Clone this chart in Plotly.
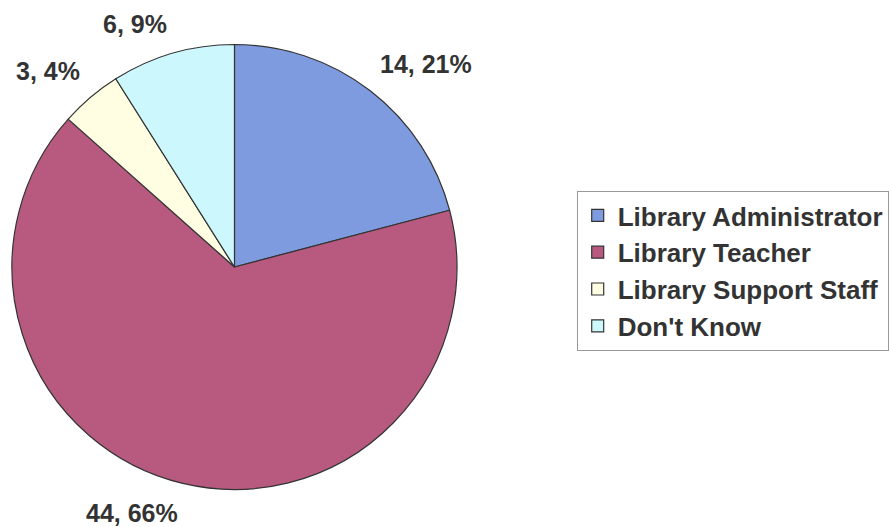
import math
import plotly.graph_objects as go

categories = ["Library Administrator", "Library Teacher", "Library Support Staff", "Don't Know"]
counts = [14, 44, 3, 6]
colors = ["#7f9be0", "#b85a80", "#fffde2", "#ccf8fd"]

W, H = 889, 527
cx, cy, R = 235, 267, 223  # pie centre / radius in pixels

fig = go.Figure(go.Pie(
    labels=[f"<b>{c}</b>" for c in categories],
    values=counts,
    sort=False,
    direction="clockwise",
    rotation=0,
    marker=dict(colors=colors, line=dict(color="#333333", width=1.2)),
    textinfo="none",
    hoverinfo="label+value+percent",
    domain=dict(x=[(cx - R) / W, (cx + R) / W], y=[1 - (cy + R) / H, 1 - (cy - R) / H]),
))

# data labels: "value, percent" placed just outside each slice's mid angle
total = sum(counts)
cum = 0
for v in counts:
    mid = (cum + v / 2) / total * 2 * math.pi
    cum += v
    s, c = math.sin(mid), math.cos(mid)
    px = cx + R * 1.06 * s
    py = cy - R * 1.06 * c
    pct = round(v / total * 100)
    fig.add_annotation(
        x=px / W, y=1 - py / H, xref="paper", yref="paper",
        text=f"<b>{v}, {pct}%</b>", showarrow=False,
        xanchor="left" if s > 0.05 else ("right" if s < -0.05 else "center"),
        yanchor="bottom" if c > 0 else "top",
        font=dict(family="Liberation Sans, Arial", size=25, color="#333333"),
    )

fig.update_layout(
    width=W, height=H,
    margin=dict(l=0, r=0, t=0, b=0),
    paper_bgcolor="white",
    plot_bgcolor="white",
    showlegend=True,
    legend=dict(
        x=578 / W, y=1 - 191 / H, xanchor="left", yanchor="top",
        bordercolor="#999999", borderwidth=1, bgcolor="white",
        font=dict(family="Liberation Sans, Arial", size=26, color="#333333"),
        itemwidth=30, tracegroupgap=0,
    ),
    font=dict(family="Liberation Sans, Arial"),
)

fig.write_html("out.html", config={"displayModeBar": False},
               post_script="document.body.style.margin='0px';")
